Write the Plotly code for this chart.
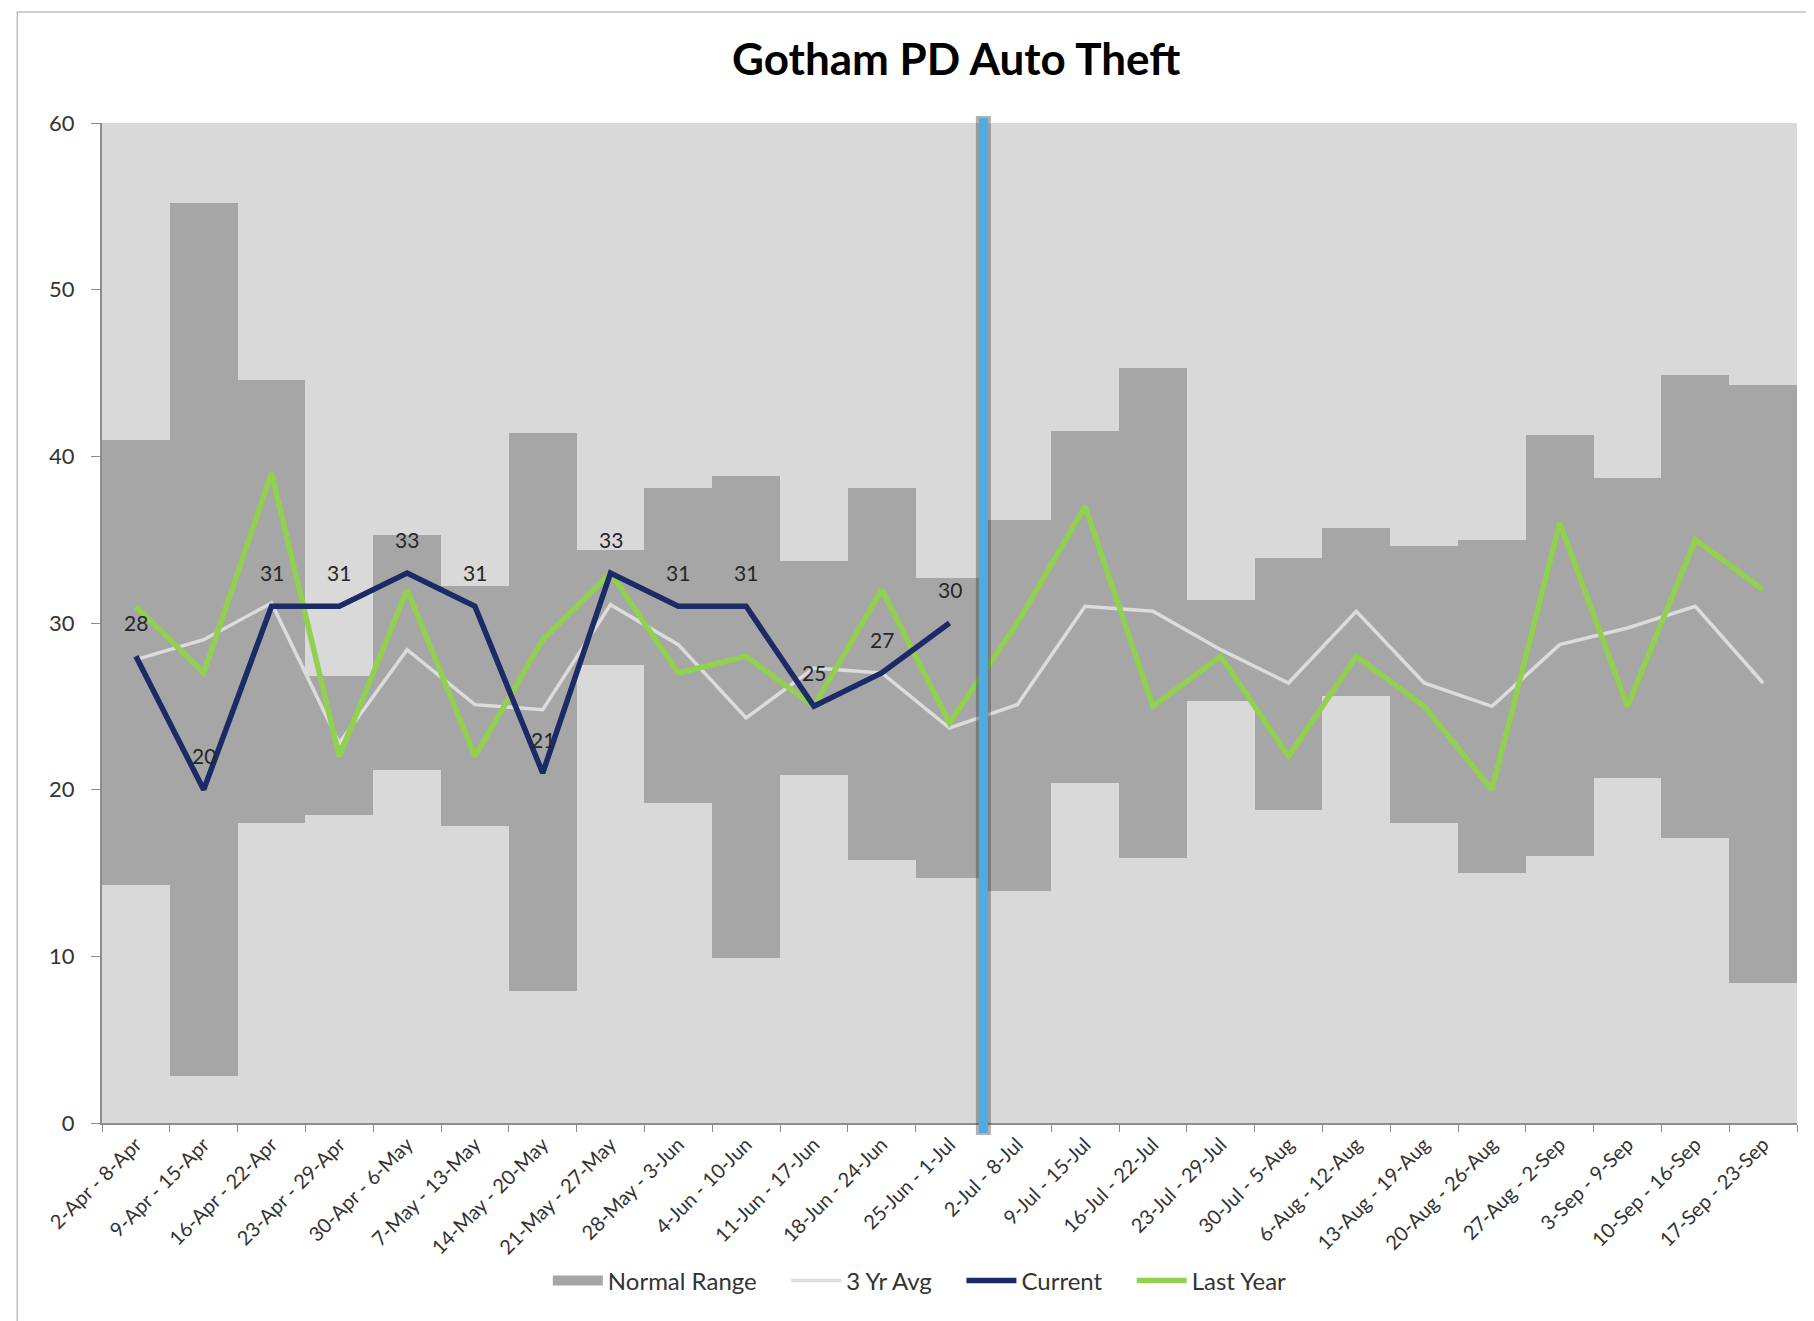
import plotly.graph_objects as go

weeks = ["2-Apr - 8-Apr", "9-Apr - 15-Apr", "16-Apr - 22-Apr", "23-Apr - 29-Apr",
         "30-Apr - 6-May", "7-May - 13-May", "14-May - 20-May", "21-May - 27-May",
         "28-May - 3-Jun", "4-Jun - 10-Jun", "11-Jun - 17-Jun", "18-Jun - 24-Jun",
         "25-Jun - 1-Jul", "2-Jul - 8-Jul", "9-Jul - 15-Jul", "16-Jul - 22-Jul",
         "23-Jul - 29-Jul", "30-Jul - 5-Aug", "6-Aug - 12-Aug", "13-Aug - 19-Aug",
         "20-Aug - 26-Aug", "27-Aug - 2-Sep", "3-Sep - 9-Sep", "10-Sep - 16-Sep",
         "17-Sep - 23-Sep"]

range_low = [14.3, 2.8, 18.0, 18.5, 21.2, 17.8, 7.9, 27.5, 19.2, 9.9, 20.9, 15.8, 14.7,
             13.9, 20.4, 15.9, 25.3, 18.8, 25.6, 18.0, 15.0, 16.0, 20.7, 17.1, 8.4]
range_high = [41.0, 55.2, 44.6, 26.8, 35.3, 32.2, 41.4, 34.4, 38.1, 38.8, 33.7, 38.1, 32.7,
              36.2, 41.5, 45.3, 31.4, 33.9, 35.7, 34.6, 35.0, 41.3, 38.7, 44.9, 44.3]
avg3yr = [27.8, 29.0, 31.2, 22.8, 28.4, 25.1, 24.8, 31.1, 28.7, 24.3, 27.3, 27.0, 23.7,
          25.1, 31.0, 30.7, 28.4, 26.4, 30.7, 26.4, 25.0, 28.7, 29.7, 31.0, 26.4]
current = [28, 20, 31, 31, 33, 31, 21, 33, 31, 31, 25, 27, 30,
           None, None, None, None, None, None, None, None, None, None, None, None]
last_year = [31, 27, 39, 22, 32, 22, 29, 33, 27, 28, 25, 32, 24,
             30, 37, 25, 28, 22, 28, 25, 20, 36, 25, 35, 32]
y_ticks = [0, 10, 20, 30, 40, 50, 60]

FONT = "Lato"
TXT = "#333333"
PAD = "\u00a0" * 4
range_size = [h - l for h, l in zip(range_high, range_low)]

fig = go.Figure()
fig.add_trace(go.Bar(x=weeks, y=range_size, base=range_low, name="Normal Range",
                     marker=dict(color="#a6a6a6", line=dict(width=0)),
                     showlegend=False, hoverinfo="skip"))
# legend proxy for the range (wide grey block)
fig.add_trace(go.Scatter(x=[None], y=[None], name="Normal Range" + PAD, mode="lines",
                         line=dict(color="#a6a6a6", width=18), legendrank=1))
fig.add_trace(go.Scatter(x=weeks, y=avg3yr, name="3 Yr Avg" + PAD, mode="lines",
                         line=dict(color="#dcdcdc", width=3.5), legendrank=2))
fig.add_trace(go.Scatter(x=weeks, y=last_year, name="Last Year", mode="lines",
                         line=dict(color="#92d050", width=5.5), legendrank=4))
fig.add_trace(go.Scatter(x=weeks, y=current, name="Current" + PAD, mode="lines",
                         line=dict(color="#1c2a66", width=5.5), legendrank=3))

# data labels for current series
for w, v in zip(weeks, current):
    if v is not None:
        fig.add_annotation(x=w, y=v, text=str(v), showarrow=False, yshift=34,
                           font=dict(family=FONT, size=21, color="#262626"))

# vertical "today" marker between 25-Jun and 2-Jul
fig.add_shape(type="line", xref="x", yref="paper", x0=12.5, x1=12.5, y0=-0.012, y1=1.007,
              line=dict(color="rgba(60,60,60,0.4)", width=15), layer="above")
fig.add_shape(type="line", xref="x", yref="paper", x0=12.5, x1=12.5, y0=-0.01, y1=1.005,
              line=dict(color="#4eabe4", width=9), layer="above")

# outer chart frame
fig.add_shape(type="rect", xref="paper", yref="paper", x0=-0.05, x1=1.03, y0=-0.23, y1=1.111,
              line=dict(color="#c0c0c0", width=1.5), fillcolor="rgba(0,0,0,0)", layer="below")

fig.update_layout(
    width=1806, height=1313,
    margin=dict(l=94, r=17, t=115, b=198),
    paper_bgcolor="white", plot_bgcolor="#d9d9d9",
    bargap=0,
    title=dict(text="<b>Gotham PD Auto Theft</b>", x=0.525, xanchor="center",
               y=0.9604, yanchor="middle",
               font=dict(family=FONT, size=44, color="#000000")),
    font=dict(family=FONT, color=TXT),
    showlegend=True,
    legend=dict(orientation="h", x=0.4825, xanchor="center", y=-0.158, yanchor="middle",
                font=dict(family=FONT, size=24, color=TXT),
                itemwidth=50, traceorder="normal"),
    xaxis=dict(type="category", categoryorder="array", categoryarray=weeks,
               range=[-0.5, len(weeks) - 0.5],
               tickangle=-45, tickfont=dict(family=FONT, size=20, color=TXT),
               showline=True, linecolor="#8c8c8c", linewidth=2,
               ticks="outside", tickson="boundaries", ticklen=7, tickcolor="#8c8c8c",
               showgrid=False, mirror=False),
    yaxis=dict(range=[0, 60], tickvals=y_ticks, tickfont=dict(family=FONT, size=22, color=TXT),
               showline=True, linecolor="#8c8c8c", linewidth=2,
               ticks="outside", ticklen=9, tickcolor="#8c8c8c", ticklabelstandoff=12,
               showgrid=False, zeroline=False),
)

fig.write_html("out.html")
